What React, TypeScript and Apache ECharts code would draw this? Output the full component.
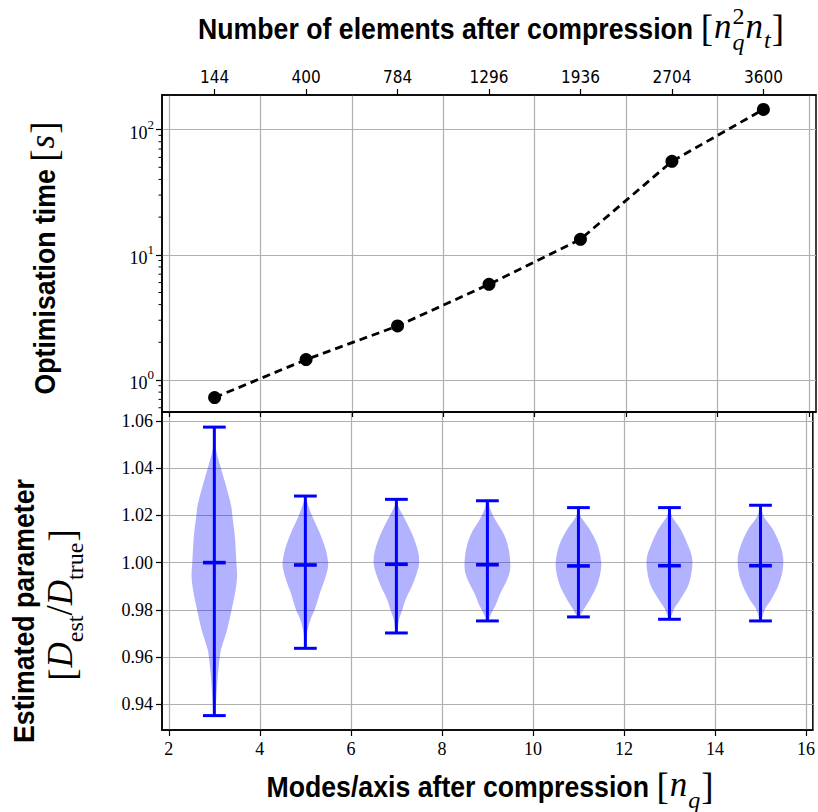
import React, { useEffect, useRef } from 'react';
import * as echarts from 'echarts';

// Modes per axis after compression (shared x positions)
const modes = [3, 5, 7, 9, 11, 13, 15];
// Number of elements after compression, n_q^2 n_t
const elementCounts = ['144', '400', '784', '1296', '1936', '2704', '3600'];
// Optimisation time in seconds
const optimisationTime = [0.724, 1.455, 2.7, 5.81, 13.3, 55.8, 145];

// Estimated parameter ratio D_est / D_true: extremes and centre
const estMax = [1.0574, 1.0282, 1.0268, 1.0262, 1.0233, 1.0233, 1.0243];
const estMin = [0.9352, 0.9637, 0.9702, 0.9753, 0.977, 0.976, 0.9753];
const estMedian = [1.0, 0.999, 0.9993, 0.9991, 0.9986, 0.9987, 0.9987];

// Density outlines: [value, relative half-width] from top to bottom
const density3 = [[1.0574, 0.03], [1.0482, 0.07], [1.04, 0.29], [1.034, 0.47], [1.0241, 0.74], [1.02, 0.79], [1.0113, 0.9], [1.0, 0.97], [0.9943, 1.0], [0.9887, 0.94], [0.98, 0.76], [0.9716, 0.56], [0.9631, 0.29], [0.96, 0.24], [0.9518, 0.15], [0.9402, 0.07], [0.9352, 0.03]];
const density5 = [[1.0282, 0.03], [1.0264, 0.05], [1.02, 0.29], [1.0129, 0.62], [1.0058, 0.89], [1.0, 1.0], [0.9973, 0.98], [0.9931, 0.86], [0.9874, 0.65], [0.98, 0.41], [0.976, 0.23], [0.9704, 0.08], [0.9637, 0.03]];
const density7 = [[1.0268, 0.04], [1.0242, 0.07], [1.02, 0.29], [1.0115, 0.72], [1.0044, 0.96], [1.0, 1.0], [0.9959, 0.91], [0.9902, 0.69], [0.9845, 0.41], [0.98, 0.26], [0.976, 0.12], [0.9702, 0.03]];
const density9 = [[1.0262, 0.04], [1.0228, 0.12], [1.0186, 0.32], [1.0115, 0.75], [1.0044, 0.96], [0.9973, 1.0], [0.9931, 0.88], [0.9874, 0.59], [0.9818, 0.35], [0.9775, 0.12], [0.9753, 0.04]];
const density11 = [[1.0233, 0.04], [1.02, 0.08], [1.0143, 0.48], [1.0072, 0.85], [1.0, 1.0], [0.9959, 0.97], [0.9902, 0.81], [0.9845, 0.51], [0.98, 0.22], [0.977, 0.04]];
const density13 = [[1.0233, 0.04], [1.02, 0.09], [1.0143, 0.48], [1.0072, 0.82], [1.0016, 1.0], [0.9959, 0.97], [0.9902, 0.82], [0.9845, 0.48], [0.98, 0.18], [0.976, 0.03]];
const density15 = [[1.0243, 0.04], [1.02, 0.12], [1.0143, 0.53], [1.0072, 0.87], [1.0016, 1.0], [0.9959, 0.96], [0.9902, 0.78], [0.9845, 0.48], [0.98, 0.18], [0.9753, 0.03]];
const densityProfiles = [density3, density5, density7, density9, density11, density13, density15];

// Axis ticks
const modeTicks = [2, 4, 6, 8, 10, 12, 14, 16];
const ratioTicks = [0.94, 0.96, 0.98, 1.0, 1.02, 1.04, 1.06];
const timeTicks = [1, 10, 100];
const timeMinorTicks = [0.6, 0.7, 0.8, 0.9, 2, 3, 4, 5, 6, 7, 8, 9, 20, 30, 40, 50, 60, 70, 80, 90];

const X_MIN = 1.85;
const X_MAX = 16.15;
const T_MIN = 0.555;
const T_MAX = 189;
const R_MIN = 0.9291;
const R_MAX = 1.0638;

const SERIF = '"Liberation Serif", "DejaVu Serif", serif';
const SANS = '"Liberation Sans", Arial, sans-serif';
const NARROW = '"Liberation Sans Narrow", "DejaVu Sans Condensed", "Liberation Sans", sans-serif';
const GRID_GREY = '#b0b0b0';

type Part = { t: string; font: string; dy?: number; sx?: number; hold?: boolean; gap?: number };

// Lays out a mixed-font label along one baseline, centred on (cx, cy).
function titleGroup(parts: Part[], cx: number, cy: number, rotated: boolean) {
  const ctx = document.createElement('canvas').getContext('2d') as CanvasRenderingContext2D;
  const widths = parts.map((p) => {
    ctx.font = p.font;
    return ctx.measureText(p.t).width * (p.sx ?? 1) + (p.gap ?? 0);
  });
  const offsets: number[] = [];
  let pos = 0;
  let held = 0;
  parts.forEach((p, i) => {
    offsets.push(pos);
    if (p.hold) {
      held = widths[i];
    } else {
      pos += Math.max(widths[i], held);
      held = 0;
    }
  });
  const total = pos;
  return {
    type: 'group',
    x: cx,
    y: cy,
    rotation: rotated ? Math.PI / 2 : 0,
    children: parts.map((p, i) => ({
      type: 'text',
      x: offsets[i] - total / 2,
      y: p.dy ?? 0,
      scaleX: p.sx ?? 1,
      style: {
        text: p.t,
        font: p.font,
        fill: '#000',
        align: 'left',
        verticalAlign: 'bottom',
        textAlign: 'left',
        textVerticalAlign: 'bottom',
      },
    })),
  };
}

const BOLD = `bold 29px ${SANS}`;
const BOLD_SX = 0.92;
const MATH = `italic 35px ${SERIF}`;
const BRACKET = `37px ${SERIF}`;
const SCRIPT_IT = `italic 24px ${SERIF}`;
const SCRIPT_RM = `24px ${SERIF}`;

export default function App() {
  const ref = useRef<HTMLDivElement>(null);

  useEffect(() => {
    if (!ref.current) return;
    const chart = echarts.init(ref.current, undefined, { renderer: 'svg' });

    const topTitle = titleGroup(
      [
        { t: 'Number of elements after compression ', font: BOLD, sx: BOLD_SX },
        { t: '[', font: BRACKET, dy: 3, gap: 1 },
        { t: 'n', font: MATH, gap: 1 },
        { t: 'q', font: SCRIPT_IT, dy: 10, hold: true },
        { t: '2', font: SCRIPT_RM, dy: -16, gap: 1 },
        { t: 'n', font: MATH, gap: 1 },
        { t: 't', font: SCRIPT_IT, dy: 8, gap: 1 },
        { t: ']', font: BRACKET, dy: 3 },
      ],
      491,
      44,
      false
    );
    const bottomTitle = titleGroup(
      [
        { t: 'Modes/axis after compression ', font: BOLD, sx: BOLD_SX },
        { t: '[', font: BRACKET, dy: 3, gap: 1 },
        { t: 'n', font: MATH, gap: 1 },
        { t: 'q', font: SCRIPT_IT, dy: 10, gap: 1 },
        { t: ']', font: BRACKET, dy: 3 },
      ],
      490,
      802,
      false
    );
    const timeTitle = titleGroup(
      [
        { t: 'Optimisation time ', font: BOLD, sx: BOLD_SX },
        { t: '[', font: BRACKET, dy: 3, gap: 1 },
        { t: 's', font: MATH, gap: 1 },
        { t: ']', font: BRACKET, dy: 3 },
      ],
      60,
      258,
      true
    );
    const ratioTitleA = titleGroup(
      [{ t: 'Estimated parameter', font: BOLD, sx: BOLD_SX }],
      39,
      611,
      true
    );
    const ratioTitleB = titleGroup(
      [
        { t: '[', font: BRACKET, dy: 3, gap: 1 },
        { t: 'D', font: MATH },
        { t: 'est', font: SCRIPT_RM, dy: 9 },
        { t: '/', font: BRACKET },
        { t: 'D', font: MATH },
        { t: 'true', font: SCRIPT_RM, dy: 9, gap: 1 },
        { t: ']', font: BRACKET, dy: 3 },
      ],
      78,
      605,
      true
    );

    const serifLabel = { fontFamily: SERIF, fontSize: 18, color: '#000' };
    const blackLine = { show: true, lineStyle: { color: '#000', width: 1.5 } };
    const gridSplit = { show: true, lineStyle: { color: GRID_GREY, width: 1.2 } };

    const option: any = {
      animation: false,
      backgroundColor: '#fff',
      grid: [
        { left: 162, top: 95, width: 654, height: 317, show: true, borderColor: '#000', borderWidth: 1.5, backgroundColor: 'transparent' },
        { left: 162, top: 412, width: 654, height: 318, show: true, borderColor: '#000', borderWidth: 1.5, backgroundColor: 'transparent' },
      ],
      xAxis: [
        {
          gridIndex: 0,
          type: 'value',
          position: 'bottom',
          min: X_MIN,
          max: X_MAX,
          splitNumber: 7,
          axisLine: blackLine,
          axisTick: { show: true, length: 5, customValues: modeTicks, lineStyle: { color: '#000', width: 1.2 } },
          axisLabel: { show: false },
          splitLine: gridSplit,
        },
        {
          gridIndex: 0,
          type: 'value',
          position: 'top',
          min: X_MIN,
          max: X_MAX,
          axisLine: blackLine,
          axisTick: { show: true, length: 6, customValues: modes, lineStyle: { color: '#000', width: 1.2 } },
          axisLabel: {
            show: true,
            customValues: modes,
            margin: 10,
            fontFamily: NARROW,
            fontSize: 17,
            color: '#000',
            formatter: (v: number) => {
              const i = modes.indexOf(Math.round(v));
              return i >= 0 ? elementCounts[i] : '';
            },
          },
          splitLine: { show: false },
        },
        {
          gridIndex: 1,
          type: 'value',
          position: 'bottom',
          min: X_MIN,
          max: X_MAX,
          splitNumber: 7,
          axisLine: blackLine,
          axisTick: { show: true, length: 6, customValues: modeTicks, lineStyle: { color: '#000', width: 1.2 } },
          axisLabel: {
            show: true,
            customValues: modeTicks,
            margin: 10,
            ...serifLabel,
            formatter: (v: number) => String(Math.round(v)),
          },
          splitLine: gridSplit,
        },
      ],
      yAxis: [
        {
          gridIndex: 0,
          type: 'log',
          logBase: 10,
          min: T_MIN,
          max: T_MAX,
          axisLine: blackLine,
          axisTick: { show: true, length: 6, customValues: timeTicks, lineStyle: { color: '#000', width: 1.2 } },
          axisLabel: {
            show: true,
            customValues: timeTicks,
            margin: 8,
            formatter: (v: number) => `{b|10}{s|${Math.round(Math.log10(v))}}`,
            rich: {
              b: { fontFamily: SERIF, fontSize: 18, color: '#000', lineHeight: 24, verticalAlign: 'bottom' },
              s: { fontFamily: SERIF, fontSize: 13, color: '#000', lineHeight: 24, verticalAlign: 'top' },
            },
          },
          splitLine: gridSplit,
        },
        {
          gridIndex: 1,
          type: 'value',
          min: R_MIN,
          max: R_MAX,
          splitNumber: 7,
          axisLine: blackLine,
          axisTick: { show: true, length: 6, customValues: ratioTicks, lineStyle: { color: '#000', width: 1.2 } },
          axisLabel: {
            show: true,
            customValues: ratioTicks,
            margin: 9,
            ...serifLabel,
            formatter: (v: number) => v.toFixed(2),
          },
          splitLine: gridSplit,
        },
      ],
      graphic: [topTitle, bottomTitle, timeTitle, ratioTitleA, ratioTitleB],
      series: [
        {
          // minor ticks of the logarithmic time axis
          type: 'custom',
          xAxisIndex: 0,
          yAxisIndex: 0,
          clip: false,
          silent: true,
          data: timeMinorTicks.map((v) => [X_MIN, v]),
          encode: { x: 0, y: 1 },
          renderItem: (params: any, api: any) => {
            const p = api.coord([api.value(0), api.value(1)]);
            return {
              type: 'line',
              shape: { x1: p[0] - 3.5, y1: p[1], x2: p[0], y2: p[1] },
              style: { stroke: '#000', lineWidth: 1 },
            };
          },
        },
        {
          type: 'line',
          xAxisIndex: 0,
          yAxisIndex: 0,
          data: modes.map((m, i) => [m, optimisationTime[i]]),
          symbol: 'circle',
          symbolSize: 13,
          itemStyle: { color: '#000' },
          lineStyle: { color: '#000', width: 2.8, type: [8, 5] },
          z: 5,
        },
        {
          type: 'custom',
          xAxisIndex: 2,
          yAxisIndex: 1,
          data: modes.map((m, i) => [m, estMedian[i], estMin[i], estMax[i]]),
          encode: { x: 0, y: [1, 2, 3] },
          renderItem: (params: any, api: any) => {
            const idx = params.dataIndex;
            const x = api.value(0);
            const profile = densityProfiles[idx];
            const half = api.size([0.5, 0])[0];
            const cap = api.size([0.25, 0])[0];
            const right = profile.map(([v, f]) => {
              const c = api.coord([x, v]);
              return [c[0] + half * f, c[1]];
            });
            const left = profile
              .slice()
              .reverse()
              .map(([v, f]) => {
                const c = api.coord([x, v]);
                return [c[0] - half * f, c[1]];
              });
            const pMed = api.coord([x, api.value(1)]);
            const pMin = api.coord([x, api.value(2)]);
            const pMax = api.coord([x, api.value(3)]);
            const stroke = { stroke: '#0000ff', lineWidth: 3 };
            return {
              type: 'group',
              children: [
                {
                  type: 'polygon',
                  shape: { points: right.concat(left), smooth: 0.35 },
                  style: { fill: 'rgba(0,0,255,0.3)', stroke: 'none' },
                },
                { type: 'line', shape: { x1: pMin[0], y1: pMin[1], x2: pMax[0], y2: pMax[1] }, style: stroke },
                { type: 'line', shape: { x1: pMax[0] - cap, y1: pMax[1], x2: pMax[0] + cap, y2: pMax[1] }, style: stroke },
                { type: 'line', shape: { x1: pMin[0] - cap, y1: pMin[1], x2: pMin[0] + cap, y2: pMin[1] }, style: stroke },
                { type: 'line', shape: { x1: pMed[0] - cap, y1: pMed[1], x2: pMed[0] + cap, y2: pMed[1] }, style: { stroke: '#0000ff', lineWidth: 3.6 } },
              ],
            };
          },
        },
      ],
    };

    chart.setOption(option);
    return () => chart.dispose();
  }, []);

  return (
    <div
      ref={ref}
      style={{ position: 'fixed', left: 0, top: 0, width: 818, height: 812, background: '#fff' }}
    />
  );
}
